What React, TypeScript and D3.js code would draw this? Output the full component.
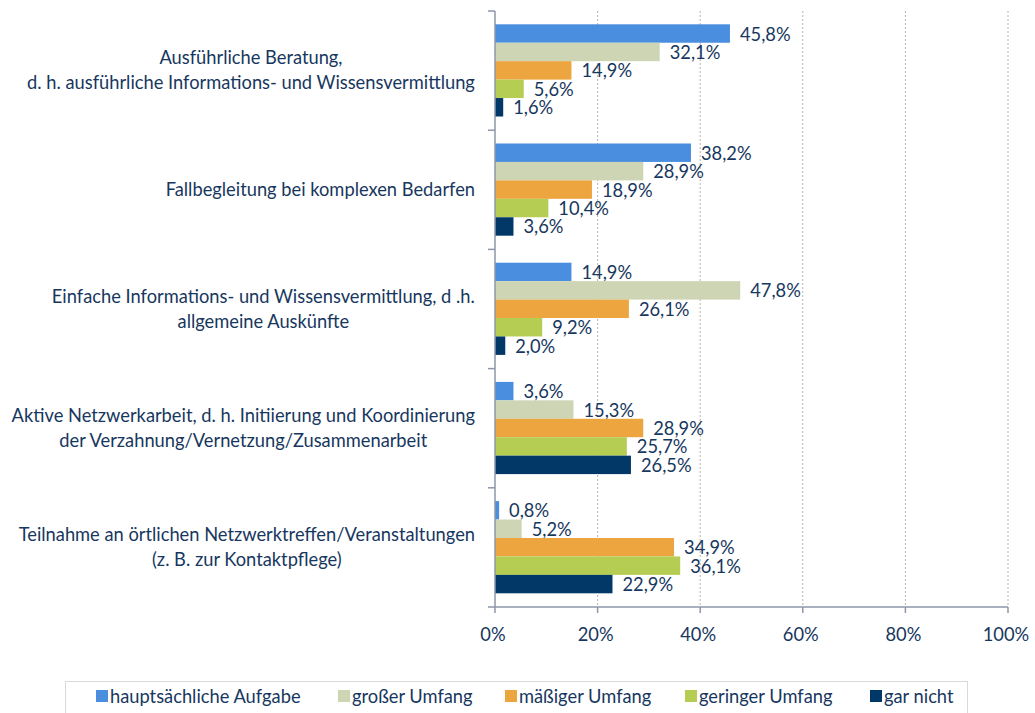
import React, { useMemo } from "react";
import * as d3 from "d3";

const categories: string[][] = [
  ["Ausführliche Beratung,", "d. h. ausführliche Informations- und Wissensvermittlung"],
  ["Fallbegleitung bei komplexen Bedarfen"],
  ["Einfache Informations- und Wissensvermittlung, d .h.", "allgemeine Auskünfte"],
  ["Aktive Netzwerkarbeit, d. h. Initiierung und Koordinierung", "der Verzahnung/Vernetzung/Zusammenarbeit"],
  ["Teilnahme an örtlichen Netzwerktreffen/Veranstaltungen", "(z. B. zur Kontaktpflege)"],
];

const seriesNames = ["hauptsächliche Aufgabe", "großer Umfang", "mäßiger Umfang", "geringer Umfang", "gar nicht"];
const seriesColors = ["#4A8EE0", "#CDD5B4", "#EDA53F", "#B5CD52", "#023868"];

const hauptsaechlich = [45.8, 38.2, 14.9, 3.6, 0.8];
const grosser = [32.1, 28.9, 47.8, 15.3, 5.2];
const maessiger = [14.9, 18.9, 26.1, 28.9, 34.9];
const geringer = [5.6, 10.4, 9.2, 25.7, 36.1];
const garNicht = [1.6, 3.6, 2.0, 26.5, 22.9];
const seriesValues = [hauptsaechlich, grosser, maessiger, geringer, garNicht];

const xTicks = [0, 20, 40, 60, 80, 100];

const TEXT = "#17375E";
const FONT = "Lato, 'Open Sans', sans-serif";
const FS = 18.3;

function measure(text: string, size: number): number {
  if (typeof document === "undefined") return text.length * size * 0.5;
  const c = document.createElement("canvas");
  const ctx = c.getContext("2d");
  if (!ctx) return text.length * size * 0.5;
  ctx.font = `${size}px Lato`;
  return ctx.measureText(text).width;
}

export default function App() {
  const W = 1035, H = 713;
  const x0 = 495, x1 = 1008, yTop = 11, yBot = 607;
  const x = d3.scaleLinear().domain([0, 100]).range([x0, x1]);
  const idx = categories.map((_, i) => String(i));
  const y = d3.scaleBand<string>().domain(idx).range([yTop, yBot]);
  const inner = d3.scaleBand<string>().domain(seriesNames).range([13.3, 105.5]);
  const fmt = (v: number) => v.toFixed(1).replace(".", ",") + "%";

  const blocks = useMemo(
    () => categories.map((lines) => Math.max(...lines.map((l) => measure(l, FS)))),
    []
  );
  const labelRight = 475;
  const lineH = 25;

  const legendItems = [
    { x: 96 }, { x: 338 }, { x: 505 }, { x: 685 }, { x: 870 },
  ];

  return (
    <svg width={W} height={H} style={{ position: "absolute", left: 0, top: 0, fontFamily: FONT }}>
      <rect x={0} y={0} width={W} height={H} fill="#fff" />
      {/* gridlines */}
      {xTicks.slice(1).map((t) => (
        <line key={t} x1={x(t)} x2={x(t)} y1={yTop} y2={yBot} stroke="#B7B2A6" strokeWidth={1} strokeDasharray="2,2" />
      ))}
      {/* bars */}
      {categories.map((_, ci) => (
        <g key={ci} transform={`translate(0,${y(String(ci))})`}>
          {seriesNames.map((s, si) => {
            const v = seriesValues[si][ci];
            const by = inner(s)!;
            const bh = inner.bandwidth();
            return (
              <g key={s}>
                <rect x={x(0)} y={by} width={x(v) - x(0)} height={bh} fill={seriesColors[si]} />
                <text x={x(v) + 10} y={by + bh / 2 + 7} fontSize={FS} fill={TEXT}>{fmt(v)}</text>
              </g>
            );
          })}
        </g>
      ))}
      {/* axes */}
      <line x1={x0} x2={x0} y1={yTop} y2={yBot} stroke="#8E97A8" strokeWidth={1.5} />
      {d3.range(categories.length + 1).map((i) => {
        const yy = yTop + i * y.step();
        return <line key={i} x1={x0 - 7} x2={x0} y1={yy} y2={yy} stroke="#8E97A8" strokeWidth={1.5} />;
      })}
      <line x1={x0} x2={x1} y1={yBot} y2={yBot} stroke="#8E97A8" strokeWidth={1.5} />
      {xTicks.map((t) => (
        <g key={t}>
          <line x1={x(t)} x2={x(t)} y1={yBot} y2={yBot + 6} stroke="#8E97A8" strokeWidth={1.5} />
          <text x={x(t) - 2} y={641} fontSize={FS} fill={TEXT} textAnchor="middle">{t}%</text>
        </g>
      ))}
      {/* category labels */}
      {categories.map((lines, ci) => {
        const cy = y(String(ci))! + y.bandwidth() / 2;
        const bw = blocks[ci];
        const cx = labelRight - bw / 2;
        const start = cy - ((lines.length - 1) * lineH) / 2;
        return (
          <g key={ci}>
            {lines.map((l, li) => (
              <text key={li} x={cx} y={start + li * lineH + 6} fontSize={FS} fill={TEXT} textAnchor="middle">{l}</text>
            ))}
          </g>
        );
      })}
      {/* legend */}
      <rect x={65.5} y={681.5} width={902} height={40} fill="#fff" stroke="#D9D9D9" />
      {seriesNames.map((s, i) => (
        <g key={s}>
          <rect x={legendItems[i].x} y={690} width={12} height={12} fill={seriesColors[i]} />
          <text x={legendItems[i].x + 14} y={703} fontSize={FS} fill={TEXT}>{s}</text>
        </g>
      ))}
    </svg>
  );
}
